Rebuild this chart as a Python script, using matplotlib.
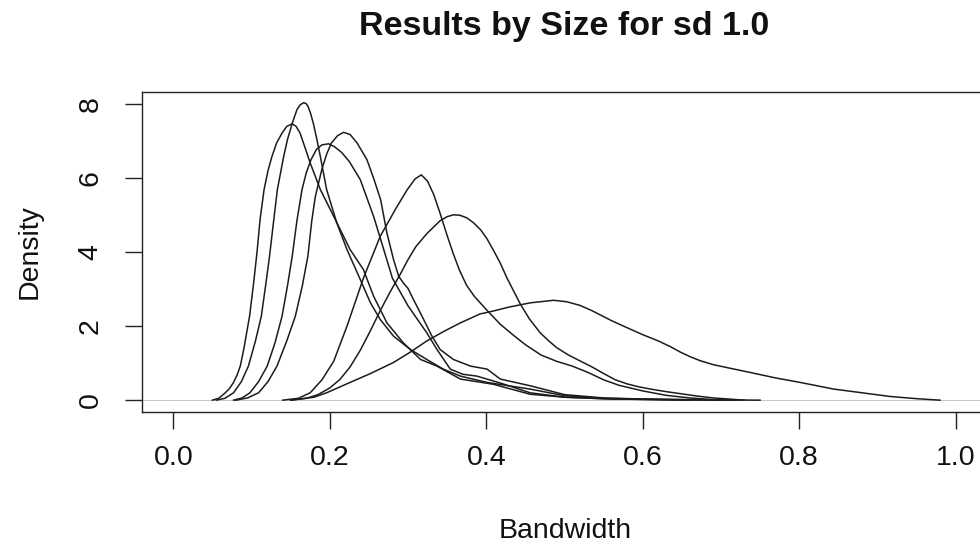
import matplotlib
matplotlib.use("Agg")
import matplotlib.pyplot as plt

plt.rcParams['font.family'] = ['Liberation Sans', 'DejaVu Sans']

title = "Results by Size for sd 1.0"
xlabel = "Bandwidth"
ylabel = "Density"
xticks = [0.0, 0.2, 0.4, 0.6, 0.8, 1.0]
xticklabels = ["0.0", "0.2", "0.4", "0.6", "0.8", "1.0"]
yticks = [0, 2, 4, 6, 8]
yticklabels = ["0", "2", "4", "6", "8"]

a_x = [0.050, 0.058, 0.0665, 0.072, 0.077, 0.0815, 0.0856, 0.090, 0.0975, 0.1027, 0.107, 0.111, 0.116, 0.121,
       0.126, 0.132, 0.139, 0.145, 0.152, 0.157, 0.162, 0.168, 0.175, 0.188, 0.205, 0.226, 0.243, 0.256, 0.273,
       0.294, 0.316, 0.337, 0.367, 0.409, 0.456, 0.50, 0.55, 0.60, 0.66]
a_y = [0.0, 0.05, 0.2, 0.32, 0.48, 0.68, 0.92, 1.37, 2.27, 3.17, 4.0, 4.9, 5.69, 6.2, 6.58, 6.95, 7.22, 7.40,
       7.47, 7.40, 7.22, 6.85, 6.41, 5.69, 4.97, 4.07, 3.53, 2.81, 2.09, 1.55, 1.10, 0.92, 0.57, 0.43, 0.16, 0.08,
       0.04, 0.02, 0.0]

b_x = [0.055, 0.066, 0.077, 0.087, 0.096, 0.105, 0.1125, 0.118, 0.123, 0.128, 0.133, 0.141, 0.146, 0.152, 0.158,
       0.162, 0.1665, 0.1695, 0.172, 0.1755, 0.179, 0.183, 0.188, 0.196, 0.209, 0.222, 0.239, 0.252, 0.2645,
       0.2815, 0.303, 0.324, 0.345, 0.367, 0.401, 0.456, 0.50, 0.55, 0.62, 0.70]
b_y = [0.0, 0.05, 0.2, 0.5, 0.92, 1.6, 2.27, 3.1, 3.89, 4.8, 5.69, 6.58, 7.05, 7.48, 7.85, 7.98, 8.04, 8.02,
       7.95, 7.75, 7.48, 7.1, 6.58, 5.69, 4.79, 4.07, 3.26, 2.63, 2.18, 1.73, 1.37, 1.10, 0.84, 0.65, 0.48, 0.30,
       0.12, 0.05, 0.02, 0.0]

c_x = [0.077, 0.088, 0.098, 0.109, 0.12, 0.13, 0.139, 0.146, 0.152, 0.158, 0.1645, 0.170, 0.176, 0.183, 0.190,
       0.1985, 0.206, 0.215, 0.225, 0.239, 0.256, 0.269, 0.28, 0.30, 0.324, 0.337, 0.354, 0.37, 0.388, 0.42, 0.456,
       0.50, 0.56, 0.65, 0.72]
c_y = [0.0, 0.06, 0.2, 0.5, 0.92, 1.55, 2.27, 3.1, 3.89, 4.85, 5.69, 6.15, 6.5, 6.78, 6.9, 6.93, 6.85, 6.7, 6.45,
       5.96, 4.97, 4.07, 3.3, 2.55, 1.82, 1.37, 0.84, 0.7, 0.65, 0.45, 0.2, 0.08, 0.03, 0.01, 0.0]

d_x = [0.08, 0.095, 0.109, 0.121, 0.1325, 0.145, 0.156, 0.165, 0.172, 0.177, 0.1815, 0.19, 0.196, 0.202, 0.21,
       0.2177, 0.226, 0.235, 0.2475, 0.256, 0.265, 0.273, 0.2815, 0.288, 0.294, 0.300, 0.307, 0.320, 0.3306,
       0.341, 0.358, 0.380, 0.401, 0.418, 0.456, 0.50, 0.55, 0.60, 0.68, 0.75]
d_y = [0.0, 0.06, 0.2, 0.5, 0.92, 1.6, 2.27, 3.1, 3.89, 4.85, 5.5, 6.25, 6.65, 6.95, 7.15, 7.24, 7.18, 6.95, 6.5,
       6.0, 5.42, 4.52, 3.80, 3.35, 3.17, 3.02, 2.72, 2.18, 1.73, 1.37, 1.10, 0.92, 0.84, 0.57, 0.39, 0.15, 0.06,
       0.03, 0.01, 0.0]

e_x = [0.14, 0.16, 0.175, 0.19, 0.205, 0.222, 0.243, 0.2645, 0.285, 0.299, 0.309, 0.317, 0.325, 0.333, 0.341,
       0.350, 0.358, 0.366, 0.375, 0.385, 0.40, 0.418, 0.435, 0.45, 0.47, 0.49, 0.51, 0.53, 0.55, 0.57, 0.60,
       0.63, 0.66, 0.70]
e_y = [0.0, 0.05, 0.2, 0.55, 1.05, 2.0, 3.3, 4.43, 5.2, 5.69, 5.98, 6.09, 5.92, 5.55, 5.05, 4.45, 3.95, 3.5, 3.1,
       2.8, 2.45, 2.05, 1.75, 1.5, 1.22, 1.05, 0.92, 0.75, 0.55, 0.4, 0.25, 0.13, 0.06, 0.0]

f_x = [0.15, 0.17, 0.185, 0.20, 0.213, 0.226, 0.239, 0.252, 0.2645, 0.277, 0.29, 0.30, 0.31, 0.324, 0.341, 0.35,
       0.358, 0.366, 0.375, 0.384, 0.393, 0.401, 0.41, 0.418, 0.4265, 0.435, 0.4435, 0.455, 0.469, 0.48, 0.49,
       0.505, 0.52, 0.535, 0.55, 0.565, 0.58, 0.595, 0.61, 0.63, 0.65, 0.67, 0.69, 0.71, 0.73]
f_y = [0.0, 0.05, 0.15, 0.33, 0.56, 0.9, 1.35, 1.88, 2.42, 2.92, 3.4, 3.8, 4.15, 4.5, 4.85, 4.96, 5.01, 5.0,
       4.93, 4.79, 4.6, 4.36, 4.02, 3.7, 3.3, 2.95, 2.6, 2.2, 1.82, 1.6, 1.42, 1.22, 1.06, 0.9, 0.72, 0.55, 0.44,
       0.36, 0.3, 0.23, 0.17, 0.11, 0.06, 0.03, 0.0]

g_x = [0.15, 0.18, 0.196, 0.226, 0.252, 0.2815, 0.303, 0.324, 0.345, 0.367, 0.392, 0.409, 0.43, 0.456, 0.486,
       0.503, 0.52, 0.535, 0.56, 0.584, 0.60, 0.62, 0.635, 0.648, 0.66, 0.673, 0.69, 0.71, 0.737, 0.77, 0.801,
       0.844, 0.88, 0.916, 0.95, 0.98]
g_y = [0.0, 0.08, 0.2, 0.48, 0.72, 1.02, 1.3, 1.60, 1.85, 2.09, 2.33, 2.41, 2.52, 2.63, 2.70, 2.66, 2.56, 2.42,
       2.15, 1.92, 1.77, 1.6, 1.45, 1.3, 1.18, 1.07, 0.96, 0.87, 0.75, 0.6, 0.48, 0.30, 0.2, 0.10, 0.04, 0.0]

curves = [(a_x, a_y), (b_x, b_y), (c_x, c_y), (d_x, d_y), (e_x, e_y), (f_x, f_y), (g_x, g_y)]

W, H = 980, 547
fig = plt.figure(figsize=(W / 100, H / 100), dpi=100)
ax = fig.add_axes([142 / W, 135 / H, (987 - 142) / W, (412 - 92) / H])
ax.set_xlim(-0.04, 1.04)
ax.set_ylim(-0.32, 8.33)

ax.axhline(0, color='#bebebe', lw=0.6, zorder=1)
for xs, ys in curves:
    ax.plot(xs, ys, color='#1c1c1c', lw=1.1, zorder=2, solid_joinstyle='round')

for sp in ax.spines.values():
    sp.set_linewidth(1.0)
    sp.set_color('#222222')

ax.set_xticks(xticks)
ax.set_xticklabels(xticklabels)
ax.set_yticks(yticks)
ax.set_yticklabels(yticklabels, rotation=90, va='center')
ax.tick_params(axis='both', direction='out', length=12, width=1.0, color='#222222',
               labelsize=20.5, labelcolor='#111111')
ax.tick_params(axis='x', pad=12)
ax.tick_params(axis='y', pad=15.5)

fig.text(564.5 / W, 1 - 27 / H, title, ha='center', va='center', fontsize=24.5,
         fontweight='bold', color='#111111')
fig.text(565 / W, 1 - 531 / H, xlabel, ha='center', va='center', fontsize=20.5, color='#111111')
fig.text(30 / W, 1 - 252 / H, ylabel, ha='center', va='center', rotation=90, fontsize=20.5,
         color='#111111')

fig.savefig("out.png", dpi=100)
